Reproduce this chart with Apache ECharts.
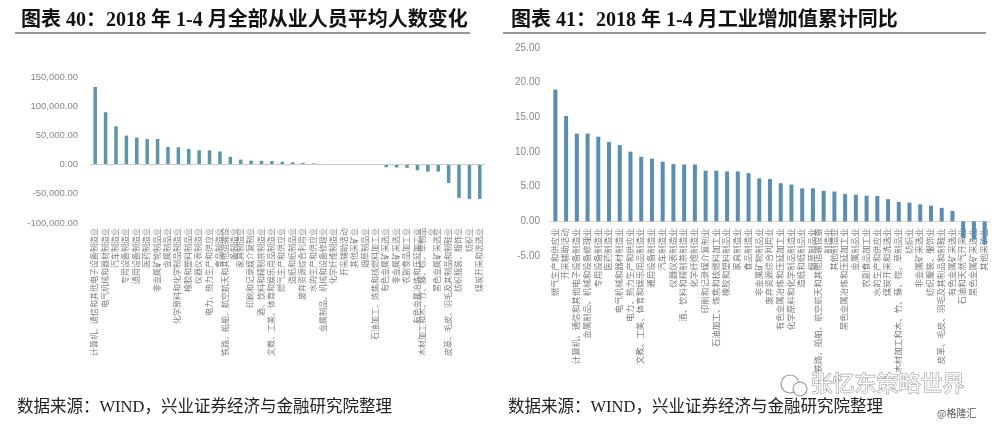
<!DOCTYPE html>
<html>
<head>
<meta charset="utf-8">
<script src="https://cdn.jsdelivr.net/npm/echarts@6/dist/echarts.min.js"></script>
<style>
html, body { margin: 0; padding: 0; background: #fff; }
#main { width: 1000px; height: 428px; }
</style>
</head>
<body>
<div id="main"></div>
<script>
// 图表40：全部从业人员平均人数变化（人）
const staffCats = [
  '计算机、通信和其他电子设备制造业', '电气机械和器材制造业', '汽车制造业', '专用设备制造业',
  '通用设备制造业', '医药制造业', '非金属矿物制品业', '金属制品业',
  '化学原料和化学制品制造业', '橡胶和塑料制品业', '仪器仪表制造业', '电力、热力生产和供应业',
  '食品制造业', '铁路、船舶、航空航天和其他运输设备制造业', '家具制造业', '印刷和记录媒介复制业',
  '酒、饮料和精制茶制造业', '文教、工美、体育和娱乐用品制造业', '燃气生产和供应业', '造纸和纸制品业',
  '废弃资源综合利用业', '水的生产和供应业', '金属制品、机械和设备修理业', '化学纤维制造业',
  '开采辅助活动', '其他采矿业', '烟草制品业', '石油加工、炼焦和核燃料加工业',
  '有色金属矿采选业', '非金属矿采选业', '农副食品加工业', '有色金属冶炼和压延加工业',
  '木材加工和木、竹、藤、棕、草制品业', '黑色金属矿采选业', '皮革、毛皮、羽毛及其制品和制鞋业', '纺织服装、服饰业',
  '纺织业', '煤炭开采和洗选业'
];
const staffValues = [
  133000, 89600, 65600, 49600, 46200, 43900, 43900, 30200,
  29700, 26800, 24500, 24500, 22500, 13400, 8600, 6800,
  6500, 6000, 5000, 4000, 3000, 2000, 1200, 600,
  300, 100, -100, -400, -4500, -5000, -5500, -9700,
  -12000, -12000, -31400, -57000, -58800, -58800
];
const staffTicks = [-100000, -50000, 0, 50000, 100000, 150000];

// 图表41：工业增加值累计同比（%）
const growthCats = [
  '燃气生产和供应业', '开采辅助活动', '计算机、通信和其他电子设备制造业', '金属制品、机械和设备修理业',
  '专用设备制造业', '医药制造业', '电气机械和器材制造业', '电力、热力生产和供应业',
  '文教、工美、体育和娱乐用品制造业', '通用设备制造业', '汽车制造业', '仪器仪表制造业',
  '酒、饮料和精制茶制造业', '化学纤维制造业', '印刷和记录媒介复制业', '石油加工、炼焦和核燃料加工业',
  '橡胶和塑料制品业', '家具制造业', '食品制造业', '非金属矿物制品业',
  '废弃资源综合利用业', '有色金属冶炼和压延加工业', '化学原料和化学制品制造业', '造纸和纸制品业',
  '烟草制品业', '铁路、船舶、航空航天和其他运输设备制造业', '其他制造业', '黑色金属冶炼和压延加工业',
  '金属制品业', '农副食品加工业', '水的生产和供应业', '煤炭开采和洗选业',
  '木材加工和木、竹、藤、棕、草制品业', '纺织业', '非金属矿采选业', '纺织服装、服饰业',
  '皮革、毛皮、羽毛及其制品和制鞋业', '有色金属矿采选业', '石油和天然气开采业', '黑色金属矿采选业',
  '其他采矿业'
];
const growthValues = [
  19.0, 15.2, 12.65, 12.65, 12.2, 11.45, 11.0, 10.05,
  9.3, 9.05, 8.6, 8.25, 8.2, 8.2, 7.3, 7.3,
  7.2, 7.2, 6.95, 6.2, 6.1, 5.5, 5.3, 4.75,
  4.75, 4.4, 4.3, 3.95, 3.85, 3.7, 3.65, 3.2,
  2.8, 2.7, 2.45, 2.25, 1.95, 1.5, -2.4, -2.6,
  -3.3
];
const growthTicks = [-5, 0, 5, 10, 15, 20, 25];

const cjk = "'Liberation Serif', 'Noto Sans CJK SC'";
const numFont = "'Liberation Sans', 'Noto Sans CJK SC'";

function fmtNum(v) {
  const s = Math.abs(v).toFixed(2);
  const parts = s.split('.');
  parts[0] = parts[0].replace(/\B(?=(\d{3})+(?!\d))/g, ',');
  return (v < 0 ? '-' : '') + parts.join('.');
}

// long names break onto a second line, like the spreadsheet did
function wrapAt(n) {
  return function (name) {
    const chars = Array.from(name);
    if (chars.length <= n) return name;
    return chars.slice(0, n).join('') + '\n' + chars.slice(n).join('');
  };
}

const g1Top = 48, g1Bottom = 172;
const g1Height = 428 - g1Top - g1Bottom;
// category axis of the right chart sits on the zero line
const zeroOffset = -(0 - growthTicks[0]) / (growthTicks[growthTicks.length - 1] - growthTicks[0]) * g1Height;

const chart = echarts.init(document.getElementById('main'));
chart.setOption({
  animation: false,
  backgroundColor: '#fff',
  title: [
    {
      text: '图表 40：2018 年 1-4 月全部从业人员平均人数变化',
      left: 16, top: 6,
      textStyle: { fontFamily: cjk, fontWeight: 'bold', fontSize: 20, color: '#111' }
    },
    {
      text: '图表 41：2018 年 1-4 月工业增加值累计同比',
      left: 506, top: 6,
      textStyle: { fontFamily: cjk, fontWeight: 'bold', fontSize: 20, color: '#111' }
    }
  ],
  grid: [
    { left: 90, right: 515, top: 77, bottom: 205 },
    { left: 550, right: 10, top: g1Top, bottom: g1Bottom }
  ],
  xAxis: [
    {
      gridIndex: 0, type: 'category', data: staffCats,
      axisLine: { show: false, onZero: false },
      axisTick: { show: false },
      axisLabel: {
        interval: 0, rotate: 90, margin: 5, fontSize: 8, lineHeight: 9,
        color: '#808080', fontFamily: cjk, formatter: wrapAt(16)
      }
    },
    {
      gridIndex: 1, type: 'category', data: growthCats,
      position: 'bottom', offset: zeroOffset,
      axisLine: { show: true, onZero: false, lineStyle: { color: '#d4d4d4', width: 1 } },
      axisTick: { show: false },
      axisLabel: {
        interval: 0, rotate: 90, margin: 7, fontSize: 8.5, lineHeight: 9.5,
        color: '#808080', fontFamily: cjk, formatter: wrapAt(17)
      }
    }
  ],
  yAxis: [
    {
      gridIndex: 0, type: 'value',
      min: staffTicks[0], max: staffTicks[staffTicks.length - 1],
      interval: staffTicks[1] - staffTicks[0],
      splitLine: { show: false },
      axisLine: { show: false }, axisTick: { show: false },
      axisLabel: { fontSize: 9.5, color: '#888', fontFamily: numFont, margin: 12, formatter: fmtNum }
    },
    {
      gridIndex: 1, type: 'value',
      min: growthTicks[0], max: growthTicks[growthTicks.length - 1],
      interval: growthTicks[1] - growthTicks[0],
      splitLine: { show: false },
      axisLine: { show: false }, axisTick: { show: false },
      axisLabel: { fontSize: 10, color: '#888', fontFamily: numFont, margin: 10, formatter: fmtNum }
    }
  ],
  series: [
    {
      type: 'bar', xAxisIndex: 0, yAxisIndex: 0, data: staffValues,
      barWidth: 3.5, itemStyle: { color: '#5c95a5' },
      markLine: {
        silent: true, symbol: 'none', label: { show: false },
        lineStyle: { color: '#c8c8c8', width: 1, type: 'solid' },
        data: [{ yAxis: 0 }]
      }
    },
    {
      type: 'bar', xAxisIndex: 1, yAxisIndex: 1, data: growthValues,
      barWidth: 4, itemStyle: { color: '#5a8db0' }
    }
  ],
  graphic: [
    { type: 'line', shape: { x1: 15, y1: 33, x2: 470, y2: 33 }, style: { stroke: '#777', lineWidth: 1.5 } },
    { type: 'line', shape: { x1: 503, y1: 33, x2: 986, y2: 33 }, style: { stroke: '#777', lineWidth: 1.5 } },
    {
      type: 'text', left: 17, top: 399,
      style: { text: '数据来源：WIND，兴业证券经济与金融研究院整理', font: '16.5px ' + cjk, fill: '#222' }
    },
    {
      type: 'text', left: 508, top: 399,
      style: { text: '数据来源：WIND，兴业证券经济与金融研究院整理', font: '16.5px ' + cjk, fill: '#222' }
    },
    { type: 'circle', shape: { cx: 790, cy: 384, r: 9 }, style: { fill: 'rgba(255,255,255,0.8)', stroke: '#999', lineWidth: 1.2 } },
    { type: 'circle', shape: { cx: 800, cy: 389, r: 7 }, style: { fill: 'rgba(255,255,255,0.8)', stroke: '#999', lineWidth: 1.2 } },
    {
      type: 'text', left: 810, top: 371,
      style: {
        text: '张忆东策略世界', font: '22px "Noto Sans CJK SC"',
        fill: '#fff', stroke: '#9a9a9a', lineWidth: 1.2
      }
    },
    {
      type: 'text', left: 937, top: 408,
      style: { text: '@格隆汇', font: '10px "Noto Sans CJK SC"', fill: '#555' }
    }
  ]
});
</script>
</body>
</html>
